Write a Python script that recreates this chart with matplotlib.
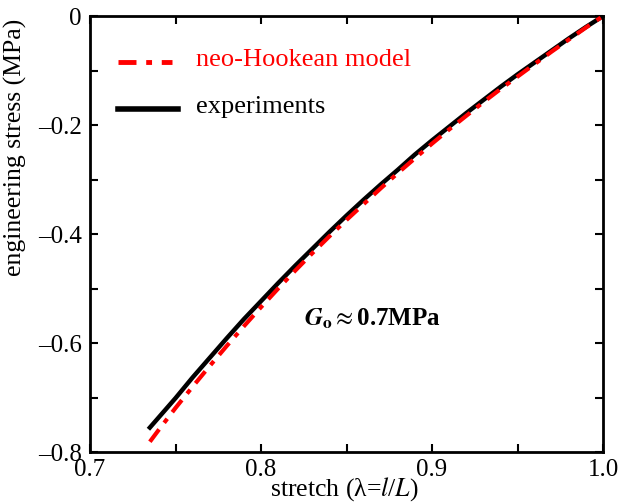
import matplotlib.pyplot as plt
from matplotlib.ticker import MultipleLocator

plt.rcParams['font.family'] = ['Liberation Serif', 'DejaVu Serif']
plt.rcParams['mathtext.fontset'] = 'stix'

# values
stretch_model = [0.735, 0.74, 0.75, 0.76, 0.77, 0.78, 0.79, 0.80, 0.81, 0.82, 0.83, 0.84, 0.85,
                 0.86, 0.87, 0.88, 0.89, 0.90, 0.91, 0.92, 0.93, 0.94, 0.95, 0.96, 0.97, 0.98,
                 0.99, 1.0]
stress_model = [-0.781, -0.760, -0.719, -0.680, -0.642, -0.605, -0.569, -0.534, -0.500, -0.467,
                -0.435, -0.404, -0.374, -0.345, -0.316, -0.288, -0.261, -0.234, -0.208, -0.183,
                -0.158, -0.134, -0.111, -0.088, -0.065, -0.043, -0.021, 0.0]

stretch_exp = [0.735, 0.74, 0.75, 0.76, 0.77, 0.78, 0.79, 0.80, 0.81, 0.82, 0.83, 0.84, 0.85,
               0.86, 0.87, 0.88, 0.89, 0.90, 0.91, 0.92, 0.93, 0.94, 0.95, 0.96, 0.97, 0.98,
               0.99, 1.0]
stress_exp = [-0.755, -0.737, -0.701, -0.663, -0.627, -0.591, -0.556, -0.523, -0.490, -0.458,
              -0.427, -0.396, -0.366, -0.337, -0.309, -0.282, -0.254, -0.228, -0.203, -0.178,
              -0.154, -0.130, -0.107, -0.085, -0.063, -0.041, -0.020, 0.0]

dashdot = (0, (3.7, 2, 1.2, 2))

fig = plt.figure(figsize=(6.23, 5.04), dpi=100)
ax = fig.add_axes([0.1445, 0.103, 0.8234, 0.865])

ax.plot(stretch_exp, stress_exp, color='black', lw=3.2, zorder=2)
ax.plot(stretch_model, stress_model, color='red', lw=3, ls=dashdot, zorder=3)

ax.set_xlim(0.7, 1.0)
ax.set_ylim(-0.8, 0.0)
ax.xaxis.set_major_locator(MultipleLocator(0.1))
ax.xaxis.set_minor_locator(MultipleLocator(0.05))
ax.yaxis.set_major_locator(MultipleLocator(0.2))
ax.yaxis.set_minor_locator(MultipleLocator(0.1))
ax.xaxis.set_major_formatter(plt.FuncFormatter(lambda v, p: f"{v:.1f}"))
ax.yaxis.set_major_formatter(plt.FuncFormatter(lambda v, p: "0" if abs(v) < 1e-9 else f"{v:.1f}".replace('-', '\u2013')))
ax.tick_params(which='both', direction='in', top=True, right=True, length=6, width=1.5,
               labelsize=18, pad=6)
ax.tick_params(axis='x', pad=5)
for s in ax.spines.values():
    s.set_linewidth(2)

ax.set_xlabel('stretch (λ=$\\mathit{l}$/$\\mathit{L}$)', fontsize=18.5, va='baseline')
ax.xaxis.set_label_coords(0.495, -0.099)
ax.set_ylabel('engineering stress (MPa)', fontsize=18.5, va='center')
ax.yaxis.set_label_coords(-0.145, 0.70)

ax.text(0.8253, -0.556, r'$\mathbfit{G}_{\mathbf{o}}$$\approx$0.7MPa', fontsize=18,
        fontweight='bold', va='center', ha='left')

# legend drawn by hand to match the original placement
ax.plot([0.0546, 0.160], [0.8945, 0.8945], transform=ax.transAxes, color='red', lw=3.5,
        ls=dashdot)
ax.plot([0.0546, 0.1715], [0.7867, 0.7867], transform=ax.transAxes, color='black', lw=4)
ax.text(0.2066, 0.8985, 'neo-Hookean model', transform=ax.transAxes, color='red',
        fontsize=19, va='center')
ax.text(0.2066, 0.7907, 'experiments', transform=ax.transAxes, color='black',
        fontsize=19, va='center')

fig.savefig('out.png', dpi=100)
